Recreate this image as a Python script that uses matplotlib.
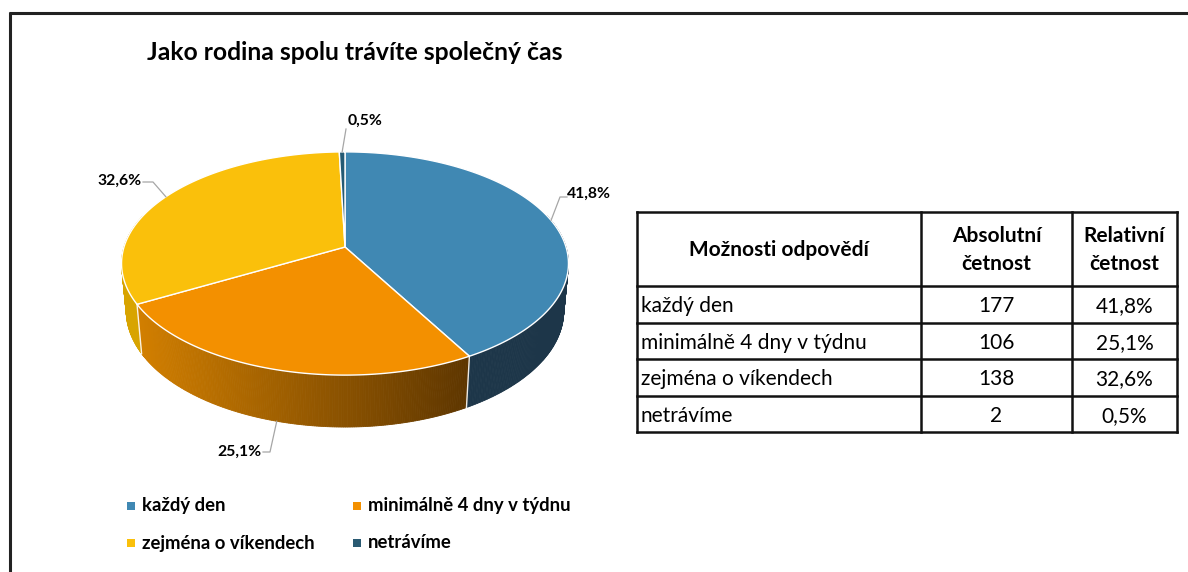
import matplotlib
matplotlib.use("Agg")
import matplotlib.pyplot as plt
import numpy as np
from matplotlib.patches import Polygon, Rectangle
from matplotlib.colors import to_rgb

plt.rcParams['font.family'] = ['Lato', 'DejaVu Sans']

# data
title = "Jako rodina spolu trávíte společný čas"
categories = ["každý den", "minimálně 4 dny v týdnu", "zejména o víkendech", "netrávíme"]
counts = [177, 106, 138, 2]
percent_labels = ["41,8%", "25,1%", "32,6%", "0,5%"]
table_header = ["Možnosti odpovědí", "Absolutní\nčetnost", "Relativní\nčetnost"]

top_colors = ["#4088B3", "#F39000", "#FAC00B", "#245A74"]
side_colors = ["#1D3649", ("#D27F00", "#5E3600"), "#D8A400", "#16303F"]
legend_colors = ["#4088B3", "#F39000", "#FAC00B", "#2A5A72"]

# 3d pie geometry (pixels)
CX, CY, K = 345, 247, 221
PHI = np.radians(29.6)
DIST = 5.88
H = 0.25


def project(theta, y3=0.0):
    # theta measured clockwise from 12 o'clock
    u = np.sin(theta)
    v = -np.cos(theta) * np.sin(PHI) - y3 * np.cos(PHI)
    depth = -np.cos(theta) * np.cos(PHI) + y3 * np.sin(PHI)
    s = DIST / (DIST - depth)
    return CX + K * u * s, CY + K * v * s


fig = plt.figure(figsize=(11.88, 5.72), dpi=100)
ax = fig.add_axes([0, 0, 1, 1])
ax.set_xlim(0, 1188)
ax.set_ylim(572, 0)
ax.axis('off')

# frame of the slide
ax.plot([9, 1188], [12.5, 12.5], color="#222222", lw=2.2, solid_capstyle='butt')
ax.plot([9.5, 9.5], [12, 572], color="#222222", lw=2.2, solid_capstyle='butt')

ax.text(355, 52, title, ha='center', va='center', fontsize=17.8, fontweight='bold')

vals = np.array(counts, dtype=float)
bounds = np.concatenate([[0], np.cumsum(vals) / vals.sum()]) * 2 * np.pi

# side walls, far quads first
quads = []
for i in range(len(vals)):
    t = np.linspace(bounds[i], bounds[i + 1], max(3, int(np.degrees(bounds[i + 1] - bounds[i]) * 2)))
    for a, b in zip(t[:-1], t[1:]):
        m = 0.5 * (a + b)
        if np.cos(m) > 0.3:
            continue
        xa, ya = project(a)
        xb, yb = project(b)
        xc, yc = project(b, -H)
        xd, yd = project(a, -H)
        quads.append((-np.cos(m), i, [(xa, ya), (xb, yb), (xc, yc), (xd, yd)]))
quads.sort(key=lambda q: q[0])

ox = [np.mean([p[0] for p in q[2]]) for q in quads if q[1] == 1]
ox0, ox1 = min(ox), max(ox)
for _, i, pts in quads:
    sc = side_colors[i]
    if isinstance(sc, tuple):
        xm = np.mean([p[0] for p in pts])
        f = (xm - ox0) / (ox1 - ox0)
        c0, c1 = np.array(to_rgb(sc[0])), np.array(to_rgb(sc[1]))
        col = c0 + (c1 - c0) * f
    else:
        col = sc
    ax.add_patch(Polygon(pts, closed=True, facecolor=col, edgecolor=col, lw=0.6))

# white seams on the side where slices meet
for b in bounds[1:-1]:
    if np.cos(b) < 0:
        x0, y0 = project(b)
        x1, y1 = project(b, -H)
        ax.plot([x0, x1], [y0, y1], color="white", lw=1.0, alpha=0.9)

# top face
for i in range(len(vals)):
    t = np.linspace(bounds[i], bounds[i + 1], 200)
    xs, ys = project(t)
    pts = [(CX, CY)] + list(zip(xs, ys))
    ax.add_patch(Polygon(pts, closed=True, facecolor=top_colors[i], edgecolor="white", lw=1.0))

# data labels with leader lines
mids = 0.5 * (bounds[:-1] + bounds[1:])
lead = "#A6A6A6"
lab_kw = dict(fontsize=11.3, fontweight='bold', va='center')

sx, sy = project(mids[0])
ax.plot([sx, 560, 567], [sy, 197, 197], color=lead, lw=0.9)
ax.text(567, 194, percent_labels[0], ha='left', **lab_kw)

sx, sy = project(mids[1], -H)
ax.plot([sx, 270, 263], [sy, 452, 452], color=lead, lw=0.9)
ax.text(262, 452, percent_labels[1], ha='right', **lab_kw)

sx, sy = project(mids[2])
ax.plot([sx, 153, 143], [sy, 182, 182], color=lead, lw=0.9)
ax.text(142, 181, percent_labels[2], ha='right', **lab_kw)

sx, sy = project(mids[3])
ax.plot([sx, 346], [sy, 129], color=lead, lw=0.9)
ax.text(365, 121, percent_labels[3], ha='center', **lab_kw)

# legend
leg_pos = [(127, 506), (353, 506), (127, 543), (353, 543)]
for (lx, ly), name, col in zip(leg_pos, categories, legend_colors):
    ax.add_patch(Rectangle((lx, ly - 4), 8, 8, facecolor=col, edgecolor='none'))
    ax.text(lx + 15, ly, name, ha='left', va='center', fontsize=13.3, fontweight='bold')

# table
col_x = [637, 921, 1072, 1177]
row_y = [212, 286, 322.5, 359, 395.5, 432]
lkw = dict(color="#111111", lw=1.8, solid_capstyle='projecting')
for y in row_y:
    ax.plot([col_x[0], col_x[-1]], [y, y], **lkw)
for x in col_x:
    ax.plot([x, x], [row_y[0], row_y[-1]], **lkw)

for j, h in enumerate(table_header):
    ax.text(0.5 * (col_x[j] + col_x[j + 1]), 0.5 * (row_y[0] + row_y[1]) + 1, h,
            ha='center', va='center', fontsize=15, fontweight='bold', linespacing=1.45)

for r in range(len(categories)):
    yc = 0.5 * (row_y[r + 1] + row_y[r + 2]) + 2
    ax.text(col_x[0] + 4, yc, categories[r], ha='left', va='center', fontsize=15)
    ax.text(0.5 * (col_x[1] + col_x[2]), yc, str(counts[r]), ha='center', va='center', fontsize=15)
    ax.text(0.5 * (col_x[2] + col_x[3]), yc, percent_labels[r], ha='center', va='center', fontsize=15)

fig.savefig("out.png", dpi=100)
